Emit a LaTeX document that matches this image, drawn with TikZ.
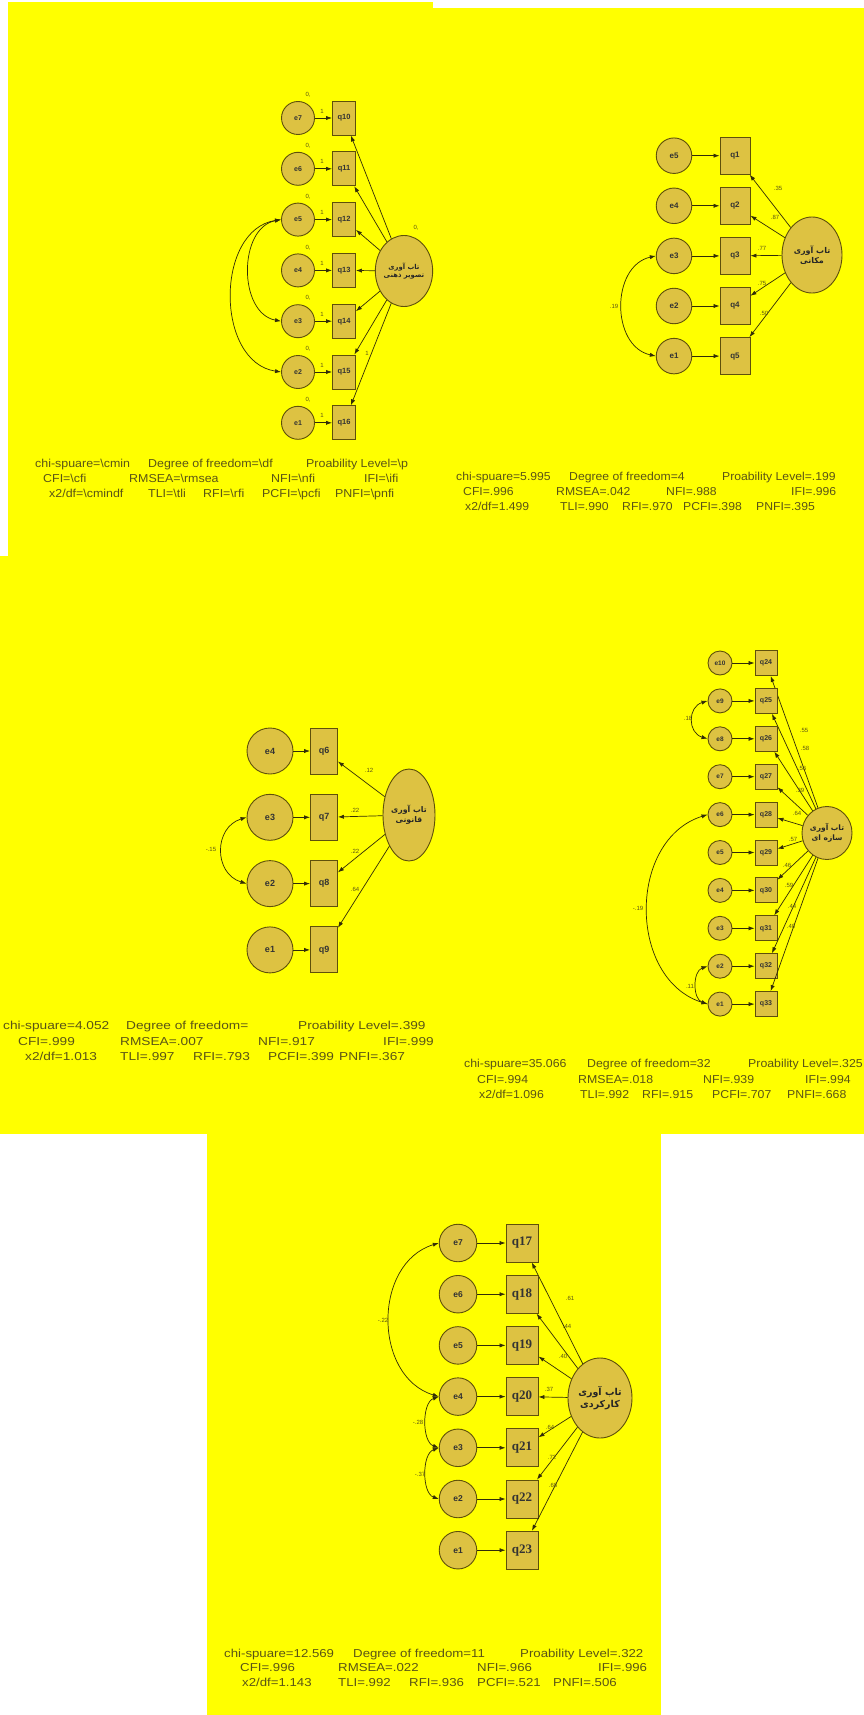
\documentclass[tikz,border=0pt]{standalone}
\usepackage{fontspec}
\setmainfont{Liberation Sans}
\setsansfont{Liberation Sans}
\newfontfamily\arfont[Script=Arabic]{DejaVu Sans}
\newfontfamily\qserif{Liberation Serif}
\TeXXeTstate=1
\usetikzlibrary{shapes.geometric,arrows.meta}
\definecolor{bgy}{RGB}{255,255,0}
\definecolor{nfill}{RGB}{221,194,66}
\definecolor{edgec}{RGB}{95,80,10}
\definecolor{linc}{RGB}{50,44,8}
\definecolor{stxt}{RGB}{90,84,22}
\newcommand{\hsf}{1.1}
\newcommand{\hs}[1]{\scalebox{\hsf}[1]{#1}}
\newcommand{\fs}[1]{\fontsize{#1}{#1}\selectfont}
\tikzset{
  err/.style={circle, draw=edgec, fill=nfill, line width=0.9pt, inner sep=0pt, text=black!80},
  obs/.style={rectangle, draw=edgec, fill=nfill, line width=0.9pt, inner sep=0pt, text=black!80},
  lat/.style={ellipse, draw=edgec, fill=nfill, line width=0.9pt, inner sep=0pt, align=center, text=black!85},
  arr/.style={-{Latex[length=6pt,width=4.2pt]}, draw=linc, line width=0.7pt},
  cov/.style={{Latex[length=6pt,width=4.2pt]}-{Latex[length=6pt,width=4.2pt]}, draw=linc, line width=0.7pt},
  stat/.style={anchor=base west, inner sep=0pt, text=stxt, font=\sffamily\fs{11.5}},
  plab/.style={inner sep=0pt, text=stxt, font=\sffamily\fs{6}},
}
\begin{document}
\begin{tikzpicture}[x=1pt,y=-1pt]
\useasboundingbox (0,0) rectangle (864,1715);
\fill[white] (0,0) rectangle (864,1715);
% backgrounds
\fill[bgy] (8,2) rectangle (433,556);
\fill[bgy] (433,8) rectangle (864,556);
\fill[bgy] (0,556) rectangle (864,1134);
\fill[bgy] (207,1134) rectangle (661,1715);

% ================= Panel 1 =================
\node[lat, minimum width=46pt, minimum height=71pt, font=\arfont\bfseries\fs{6.8}] (pA-lat) at (404,271)
  {\beginR تاب آوری\endR\\[1pt]\beginR تصویر ذهنی\endR};
\foreach \k/\e/\q in {0/7/10,1/6/11,2/5/12,3/4/13,4/3/14,5/2/15,6/1/16}{
  \node[err, minimum size=33pt, font=\sffamily\bfseries\fs{7}] (pA-e\e) at (298,{118+50.8*\k}) {e\e};
  \node[obs, minimum width=23pt, minimum height=34pt, font=\sffamily\bfseries\fs{7.5}] (pA-q\q) at (344,{118+50.8*\k}) {q\q};
  \draw[arr] (pA-e\e) -- (pA-q\q);
  \draw[arr] (pA-lat) -- (pA-q\q);
  \node[plab] at (308,{95+50.8*\k}) {0,};
  \node[plab] at (322,{111+50.8*\k}) {1};
}
\node[plab] at (416,228) {0,};
\node[plab] at (367,353) {1};
\draw[cov] (pA-e5.west) .. controls +(-43,8) and +(-43,-8) .. (pA-e3.west);
\draw[cov] (pA-e5.west) .. controls +(-66,10) and +(-66,-10) .. (pA-e2.west);
\renewcommand{\hsf}{1.08}
\node[stat] at (35,467.5) {\hs{chi-spuare=\textbackslash cmin}};
\node[stat] at (148,467.5) {\hs{Degree of freedom=\textbackslash df}};
\node[stat] at (306,467.5) {\hs{Proability Level=\textbackslash p}};
\node[stat] at (43,482.5) {\hs{CFI=\textbackslash cfi}};
\node[stat] at (129,482.5) {\hs{RMSEA=\textbackslash rmsea}};
\node[stat] at (271,482.5) {\hs{NFI=\textbackslash nfi}};
\node[stat] at (364,482.5) {\hs{IFI=\textbackslash ifi}};
\node[stat] at (49,497.5) {\hs{x2/df=\textbackslash cmindf}};
\node[stat] at (148,497.5) {\hs{TLI=\textbackslash tli}};
\node[stat] at (203,497.5) {\hs{RFI=\textbackslash rfi}};
\node[stat] at (262,497.5) {\hs{PCFI=\textbackslash pcfi}};
\node[stat] at (335,497.5) {\hs{PNFI=\textbackslash pnfi}};

% ================= Panel 2 =================
\node[lat, minimum width=60pt, minimum height=76pt, font=\arfont\bfseries\fs{8}] (pB-lat) at (812,255)
  {\beginR تاب آوری\endR\\[1pt]\beginR مکانی\endR};
\foreach \k/\e/\q in {0/5/1,1/4/2,2/3/3,3/2/4,4/1/5}{
  \node[err, minimum size=35.5pt, font=\sffamily\bfseries\fs{8}] (pB-e\e) at (674,{155.7+50.1*\k}) {e\e};
  \node[obs, minimum width=30pt, minimum height=37pt, font=\sffamily\bfseries\fs{8}] (pB-q\q) at (735,{155.7+50.1*\k}) {q\q};
  \draw[arr] (pB-e\e) -- (pB-q\q);
  \draw[arr] (pB-lat) -- (pB-q\q);
}
\node[plab] at (778,188) {.35};
\node[plab] at (775,217) {.87};
\node[plab] at (762,248) {.77};
\node[plab] at (762,283) {.75};
\node[plab] at (764,313) {.50};
\draw[cov] (pB-e3.west) .. controls +(-45,10) and +(-45,-10) .. (pB-e1.west);
\node[plab] at (614,306) {.19};
\renewcommand{\hsf}{1.06}
\node[stat] at (456,480.5) {\hs{chi-spuare=5.995}};
\node[stat] at (569,480.5) {\hs{Degree of freedom=4}};
\node[stat] at (722,480.5) {\hs{Proability Level=.199}};
\node[stat] at (463,495.5) {\hs{CFI=.996}};
\node[stat] at (556,495.5) {\hs{RMSEA=.042}};
\node[stat] at (666,495.5) {\hs{NFI=.988}};
\node[stat] at (791,495.5) {\hs{IFI=.996}};
\node[stat] at (465,510.5) {\hs{x2/df=1.499}};
\node[stat] at (560,510.5) {\hs{TLI=.990}};
\node[stat] at (622,510.5) {\hs{RFI=.970}};
\node[stat] at (683,510.5) {\hs{PCFI=.398}};
\node[stat] at (756,510.5) {\hs{PNFI=.395}};

% ================= Panel 3 =================
\node[lat, minimum width=52pt, minimum height=92pt, font=\arfont\bfseries\fs{7.8}] (pC-lat) at (409,815)
  {\beginR تاب آوری\endR\\[1pt]\beginR قانونی\endR};
\foreach \k/\e/\q in {0/4/6,1/3/7,2/2/8,3/1/9}{
  \node[err, minimum size=46pt, font=\sffamily\bfseries\fs{9}] (pC-e\e) at (270,{751+66.3*\k}) {e\e};
  \node[obs, minimum width=27pt, minimum height=46pt, font=\sffamily\bfseries\fs{9}] (pC-q\q) at (324,{751+66.3*\k}) {q\q};
  \draw[arr] (pC-e\e) -- (pC-q\q);
  \draw[arr] (pC-lat) -- (pC-q\q);
}
\node[plab] at (369,770) {.12};
\node[plab] at (355,810) {.22};
\node[plab] at (355,851) {.22};
\node[plab] at (355,889) {.64};
\draw[cov] (pC-e3.west) .. controls +(-33,10) and +(-33,-10) .. (pC-e2.west);
\node[plab] at (211,849) {-.15};
\renewcommand{\hsf}{1.19}
\node[stat] at (3,1029.5) {\hs{chi-spuare=4.052}};
\node[stat] at (126,1029.5) {\hs{Degree of freedom=}};
\node[stat] at (298,1029.5) {\hs{Proability Level=.399}};
\node[stat] at (18,1045.5) {\hs{CFI=.999}};
\node[stat] at (120,1045.5) {\hs{RMSEA=.007}};
\node[stat] at (258,1045.5) {\hs{NFI=.917}};
\node[stat] at (383,1045.5) {\hs{IFI=.999}};
\node[stat] at (25,1060.5) {\hs{x2/df=1.013}};
\node[stat] at (120,1060.5) {\hs{TLI=.997}};
\node[stat] at (193,1060.5) {\hs{RFI=.793}};
\node[stat] at (268,1060.5) {\hs{PCFI=.399}};
\node[stat] at (339,1060.5) {\hs{PNFI=.367}};

% ================= Panel 4 =================
\node[lat, minimum width=50pt, minimum height=53pt, font=\arfont\bfseries\fs{7.5}] (pD-lat) at (827,833)
  {\beginR تاب آوری\endR\\[1pt]\beginR سازه ای\endR};
\foreach \k/\e/\q in {0/10/24,1/9/25,2/8/26,3/7/27,4/6/28,5/5/29,6/4/30,7/3/31,8/2/32,9/1/33}{
  \node[err, minimum size=24pt, font=\sffamily\bfseries\fs{6.5}] (pD-e\e) at (720,{663+37.9*\k}) {e\e};
  \node[obs, minimum width=22pt, minimum height=25pt, font=\sffamily\bfseries\fs{7}] (pD-q\q) at (766,{663+37.9*\k}) {q\q};
  \draw[arr] (pD-e\e) -- (pD-q\q);
  \draw[arr] (pD-lat) -- (pD-q\q);
}
\node[plab] at (804,730) {.55};
\node[plab] at (805,748) {.58};
\node[plab] at (802,768) {.56};
\node[plab] at (800,790) {.39};
\node[plab] at (797,813) {.64};
\node[plab] at (793,839) {.57};
\node[plab] at (787,865) {.46};
\node[plab] at (789,885) {.59};
\node[plab] at (792,906) {.44};
\node[plab] at (791,926) {.40};
\draw[cov] (pD-e9.west) .. controls +(-20,6) and +(-20,-6) .. (pD-e8.west);
\draw[cov] (pD-e6.west) .. controls +(-80,25) and +(-80,-25) .. (pD-e1.west);
\draw[cov] (pD-e2.west) .. controls +(-15,5) and +(-15,-5) .. (pD-e1.west);
\node[plab] at (688,718) {.18};
\node[plab] at (638,908) {-.19};
\node[plab] at (690,986) {.11};
\renewcommand{\hsf}{1.07}
\node[stat] at (464,1067.5) {\hs{chi-spuare=35.066}};
\node[stat] at (587,1067.5) {\hs{Degree of freedom=32}};
\node[stat] at (748,1067.5) {\hs{Proability Level=.325}};
\node[stat] at (477,1083.5) {\hs{CFI=.994}};
\node[stat] at (578,1083.5) {\hs{RMSEA=.018}};
\node[stat] at (703,1083.5) {\hs{NFI=.939}};
\node[stat] at (805,1083.5) {\hs{IFI=.994}};
\node[stat] at (479,1098.5) {\hs{x2/df=1.096}};
\node[stat] at (580,1098.5) {\hs{TLI=.992}};
\node[stat] at (642,1098.5) {\hs{RFI=.915}};
\node[stat] at (712,1098.5) {\hs{PCFI=.707}};
\node[stat] at (787,1098.5) {\hs{PNFI=.668}};

% ================= Panel 5 =================
\node[lat, minimum width=64pt, minimum height=80pt, font=\arfont\bfseries\fs{9.5}] (pE-lat) at (600,1398)
  {\beginR تاب آوری\endR\\[1pt]\beginR کارکردی\endR};
\foreach \k/\e/\q in {0/7/17,1/6/18,2/5/19,3/4/20,4/3/21,5/2/22,6/1/23}{
  \node[err, minimum size=37.5pt, font=\sffamily\bfseries\fs{8.5}] (pE-e\e) at (458,{1243+51.2*\k}) {e\e};
  \node[obs, minimum width=32pt, minimum height=38pt, font=\qserif\bfseries\fs{13}] (pE-q\q) at (522,{1243+51.2*\k}) {q\q};
  \draw[arr] (pE-e\e) -- (pE-q\q);
  \draw[arr] (pE-lat) -- (pE-q\q);
}
\node[plab] at (570,1298) {.61};
\node[plab] at (567,1326) {.44};
\node[plab] at (563,1356) {.40};
\node[plab] at (549,1389) {.37};
\node[plab] at (550,1427) {.64};
\node[plab] at (552,1457) {.72};
\node[plab] at (553,1485) {.68};
\draw[cov] (pE-e7.west) .. controls +(-66,20) and +(-66,-20) .. (pE-e4.west);
\draw[cov] (pE-e4.west) .. controls +(-17,6) and +(-17,-6) .. (pE-e3.west);
\draw[cov] (pE-e3.west) .. controls +(-17,6) and +(-17,-6) .. (pE-e2.west);
\node[plab] at (383,1320) {-.22};
\node[plab] at (418,1422) {-.28};
\node[plab] at (420,1474) {-.37};
\renewcommand{\hsf}{1.15}
\node[stat] at (224,1657) {\hs{chi-spuare=12.569}};
\node[stat] at (353,1657) {\hs{Degree of freedom=11}};
\node[stat] at (520,1657) {\hs{Proability Level=.322}};
\node[stat] at (240,1671.5) {\hs{CFI=.996}};
\node[stat] at (338,1671.5) {\hs{RMSEA=.022}};
\node[stat] at (477,1671.5) {\hs{NFI=.966}};
\node[stat] at (598,1671.5) {\hs{IFI=.996}};
\node[stat] at (242,1686.5) {\hs{x2/df=1.143}};
\node[stat] at (338,1686.5) {\hs{TLI=.992}};
\node[stat] at (409,1686.5) {\hs{RFI=.936}};
\node[stat] at (477,1686.5) {\hs{PCFI=.521}};
\node[stat] at (553,1686.5) {\hs{PNFI=.506}};
\end{tikzpicture}
\end{document}
